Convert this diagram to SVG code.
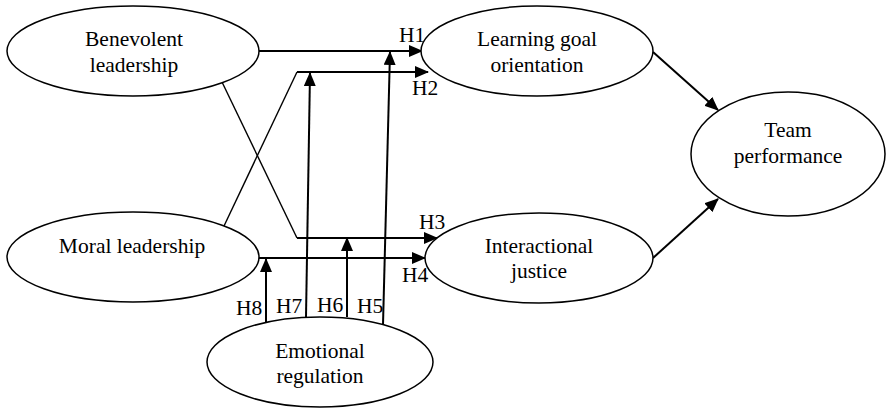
<svg xmlns="http://www.w3.org/2000/svg" width="887" height="409" viewBox="0 0 887 409">
<defs>
<marker id="ah" markerUnits="userSpaceOnUse" markerWidth="14" markerHeight="12" refX="13" refY="6" orient="auto">
<path d="M0,0 L14,6 L0,12 Z" fill="#000"/>
</marker>
<style>
text{font-family:"Liberation Serif","DejaVu Serif",serif;font-size:21.5px;fill:#000}
.n ellipse{fill:#fff;stroke:#000;stroke-width:1.5}
.n text{text-anchor:middle}
.a{stroke:#000;stroke-width:2;fill:none;marker-end:url(#ah)}
.l{stroke:#000;stroke-width:1.4;fill:none}
</style>
</defs>
<rect width="887" height="409" fill="#fff"/>
<g id="connectors">
<line class="a" x1="259" y1="51" x2="422" y2="51"/>
<polyline class="l" points="224,226 297,72"/>
<line class="a" x1="297" y1="72" x2="428" y2="72"/>
<polyline class="l" points="222,82 297,238"/>
<line class="a" x1="297" y1="238" x2="437" y2="238"/>
<line class="a" x1="259" y1="258" x2="425" y2="258"/>
<line class="a" x1="266" y1="322" x2="266" y2="259"/>
<line class="a" x1="306" y1="317" x2="310" y2="73"/>
<line class="a" x1="347" y1="317" x2="347" y2="238"/>
<line class="a" x1="383" y1="325" x2="390" y2="52"/>
<line class="a" x1="653" y1="52" x2="718" y2="110"/>
<line class="a" x1="653" y1="258" x2="718" y2="199"/>
<text x="399" y="42">H1</text>
<text x="412" y="95">H2</text>
<text x="419" y="229">H3</text>
<text x="402" y="282">H4</text>
<text x="357" y="313">H5</text>
<text x="317" y="312">H6</text>
<text x="276" y="313">H7</text>
<text x="236" y="315">H8</text>
</g>
<g id="benevolent" class="n">
<ellipse cx="133" cy="51" rx="126" ry="45"/>
<text x="134" y="46">Benevolent</text>
<text x="134" y="72">leadership</text>
</g>
<g id="moral" class="n">
<ellipse cx="133" cy="257" rx="126" ry="45"/>
<text x="132" y="253">Moral leadership</text>
</g>
<g id="learning" class="n">
<ellipse cx="537" cy="51" rx="116" ry="45"/>
<text x="537" y="46">Learning goal</text>
<text x="537" y="72">orientation</text>
</g>
<g id="interactional" class="n">
<ellipse cx="539" cy="258" rx="114" ry="45"/>
<text x="539" y="253">Interactional</text>
<text x="539" y="278">justice</text>
</g>
<g id="team" class="n">
<ellipse cx="788" cy="154" rx="97" ry="62"/>
<text x="788" y="137">Team</text>
<text x="788" y="163">performance</text>
</g>
<g id="emotional" class="n">
<ellipse cx="320" cy="362" rx="113" ry="45"/>
<text x="320" y="358">Emotional</text>
<text x="320" y="383">regulation</text>
</g>
</svg>
